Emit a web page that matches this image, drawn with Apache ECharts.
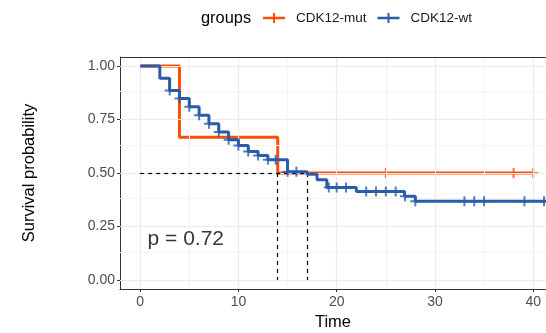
<!DOCTYPE html>
<html>
<head>
<meta charset="utf-8">
<script src="https://cdn.jsdelivr.net/npm/echarts@6/dist/echarts.min.js"></script>
<style>
html, body { margin: 0; padding: 0; background: #fff; }
#main { width: 546px; height: 333px; }
</style>
</head>
<body>
<div id="main"></div>
<script>
// 生存曲线: 每一步的时间和下降后的生存率
var mutTimes = [0, 4, 14, 40.1];
var mutSurv = [1, 0.667, 0.5, 0.5];
var mutCensor = [25, 38, 40];

var wtTimes = [0, 2, 3, 4, 5, 6, 7, 8, 9, 10, 11, 12, 13, 15, 17, 18, 19, 22, 26.9, 28, 41.4];
var wtSurv = [1, 0.943, 0.886, 0.848, 0.810, 0.770, 0.730, 0.692, 0.655, 0.628, 0.600, 0.582, 0.562, 0.506, 0.494, 0.468, 0.432, 0.413, 0.391, 0.368, 0.368];
var wtCensor = [3, 4, 5, 6, 7, 8, 9, 10, 11, 12, 13, 13.8, 15, 15.9, 19.2, 20, 20.95, 23, 24, 25, 26, 26.95, 28, 33, 34, 35, 39.1, 41.1];

var xTicks = [0, 10, 20, 30, 40];
var yTicks = [0, 0.25, 0.5, 0.75, 1];
var xMinor = [5, 15, 25, 35];
var yMinor = [0.125, 0.375, 0.625, 0.875];
var medianSurv = 0.5;
var medians = [14, 17];
var pText = 'p = 0.72';

var xMin = -2.05, xMax = 41.3;
var yMin = -0.042, yMax = 1.042;

var mutColor = '#FC4E07';
var wtColor = '#2A5CAA';
var plusIcon = 'path://M0,3.8h22v2.4h-22z M10,0h2v10h-2z';
var censorIcon = 'path://M0,4h10v2h-10z M4,0h2v10h-2z';

var survAt = function (times, surv, t) {
    var s = surv[0];
    for (var i = 0; i < times.length; i++) {
        if (times[i] <= t) s = surv[i];
    }
    return s;
};
var zip = function (a, b) {
    return a.map(function (v, i) { return [v, b[i]]; });
};
var censorPoints = function (times, surv, cens) {
    return cens.map(function (t) { return [t, survAt(times, surv, t)]; });
};

var myChart = echarts.init(document.getElementById('main'));

// 网格线
var major = { color: '#EBEBEB', width: 1.1, type: 'solid' };
var minor = { color: '#F3F3F3', width: 1, type: 'solid' };
var gridLines = [];
xTicks.forEach(function (v) { gridLines.push({ xAxis: v, lineStyle: major }); });
yTicks.forEach(function (v) { gridLines.push({ yAxis: v, lineStyle: major }); });
xMinor.forEach(function (v) { gridLines.push({ xAxis: v, lineStyle: minor }); });
yMinor.forEach(function (v) { gridLines.push({ yAxis: v, lineStyle: minor }); });
// 面板上边框
gridLines.push({ yAxis: yMax, lineStyle: { color: '#333', width: 1, type: 'solid' } });

// 中位生存时间虚线
var medLines = [[{ coord: [0, medianSurv] }, { coord: [medians[medians.length - 1], medianSurv] }]];
medians.forEach(function (m) {
    medLines.push([{ coord: [m, medianSurv] }, { coord: [m, 0] }]);
});

var axisText = { color: '#4D4D4D', fontSize: 14, fontFamily: 'Liberation Sans' };
var frame = { show: true, onZero: false, lineStyle: { color: '#333', width: 1 } };

var option = {
    backgroundColor: '#fff',
    animation: false,
    title: {
        text: 'groups',
        left: 201,
        top: 10,
        padding: 0,
        textStyle: { fontSize: 16.4, fontWeight: 'normal', color: '#000', fontFamily: 'Liberation Sans' }
    },
    legend: {
        left: 263,
        top: 11,
        padding: 0,
        itemWidth: 22,
        itemHeight: 10,
        itemGap: 11,
        textStyle: { fontSize: 13.5, color: '#1A1A1A', fontFamily: 'Liberation Sans', padding: [0, 0, 0, 6] },
        data: [
            { name: 'CDK12-mut', icon: plusIcon, itemStyle: { color: mutColor } },
            { name: 'CDK12-wt', icon: plusIcon, itemStyle: { color: wtColor } }
        ]
    },
    grid: {
        left: 120,
        top: 57,
        right: 0,
        bottom: 44,
        show: false,
        containLabel: false,
        outerBoundsMode: 'none'
    },
    xAxis: {
        type: 'value',
        min: xMin,
        max: xMax,
        name: 'Time',
        nameLocation: 'middle',
        nameGap: 24,
        nameTextStyle: { fontSize: 16.5, color: '#000', fontFamily: 'Liberation Sans' },
        axisLine: frame,
        axisTick: { show: true, length: 3, lineStyle: { color: '#333' }, customValues: xTicks },
        axisLabel: Object.assign({ margin: 6, customValues: xTicks }, axisText),
        splitLine: { show: false }
    },
    yAxis: {
        type: 'value',
        min: yMin,
        max: yMax,
        name: 'Survival probability',
        nameLocation: 'middle',
        nameRotate: 90,
        nameGap: 82,
        nameTextStyle: { fontSize: 16.5, color: '#000', fontFamily: 'Liberation Sans' },
        axisLine: frame,
        axisTick: { show: true, length: 3, lineStyle: { color: '#333' }, customValues: yTicks },
        axisLabel: Object.assign({
            margin: 5,
            customValues: yTicks,
            formatter: function (v) { return v.toFixed(2); }
        }, axisText),
        splitLine: { show: false }
    },
    series: [
        {
            name: 'gridlines',
            type: 'line',
            data: [],
            z: 1,
            silent: true,
            markLine: {
                silent: true,
                symbol: ['none', 'none'],
                label: { show: false },
                data: gridLines
            }
        },
        {
            name: 'median',
            type: 'line',
            data: [],
            z: 2,
            silent: true,
            markLine: {
                silent: true,
                symbol: ['none', 'none'],
                label: { show: false },
                lineStyle: { color: '#000', type: [4, 4], width: 1.2 },
                data: medLines
            }
        },
        {
            name: 'CDK12-mut',
            type: 'line',
            step: 'end',
            z: 3,
            showSymbol: false,
            itemStyle: { color: mutColor },
            lineStyle: { color: mutColor, width: 3 },
            data: zip(mutTimes, mutSurv)
        },
        {
            name: 'CDK12-mut',
            type: 'scatter',
            z: 4,
            symbol: censorIcon,
            symbolSize: [10, 10],
            itemStyle: { color: mutColor },
            data: censorPoints(mutTimes, mutSurv, mutCensor)
        },
        {
            name: 'CDK12-wt',
            type: 'line',
            step: 'end',
            z: 5,
            showSymbol: false,
            itemStyle: { color: wtColor },
            lineStyle: { color: wtColor, width: 3 },
            data: zip(wtTimes, wtSurv)
        },
        {
            name: 'CDK12-wt',
            type: 'scatter',
            z: 6,
            symbol: censorIcon,
            symbolSize: [10, 10],
            itemStyle: { color: wtColor },
            data: censorPoints(wtTimes, wtSurv, wtCensor)
        },
        {
            name: 'pval',
            type: 'scatter',
            z: 7,
            symbolSize: 0,
            silent: true,
            label: {
                show: true,
                position: 'right',
                distance: 0,
                formatter: pText,
                fontSize: 21,
                color: '#000',
                fontFamily: 'Liberation Sans'
            },
            data: [[0.75, 0.19]]
        }
    ]
};

myChart.setOption(option);
</script>
</body>
</html>
